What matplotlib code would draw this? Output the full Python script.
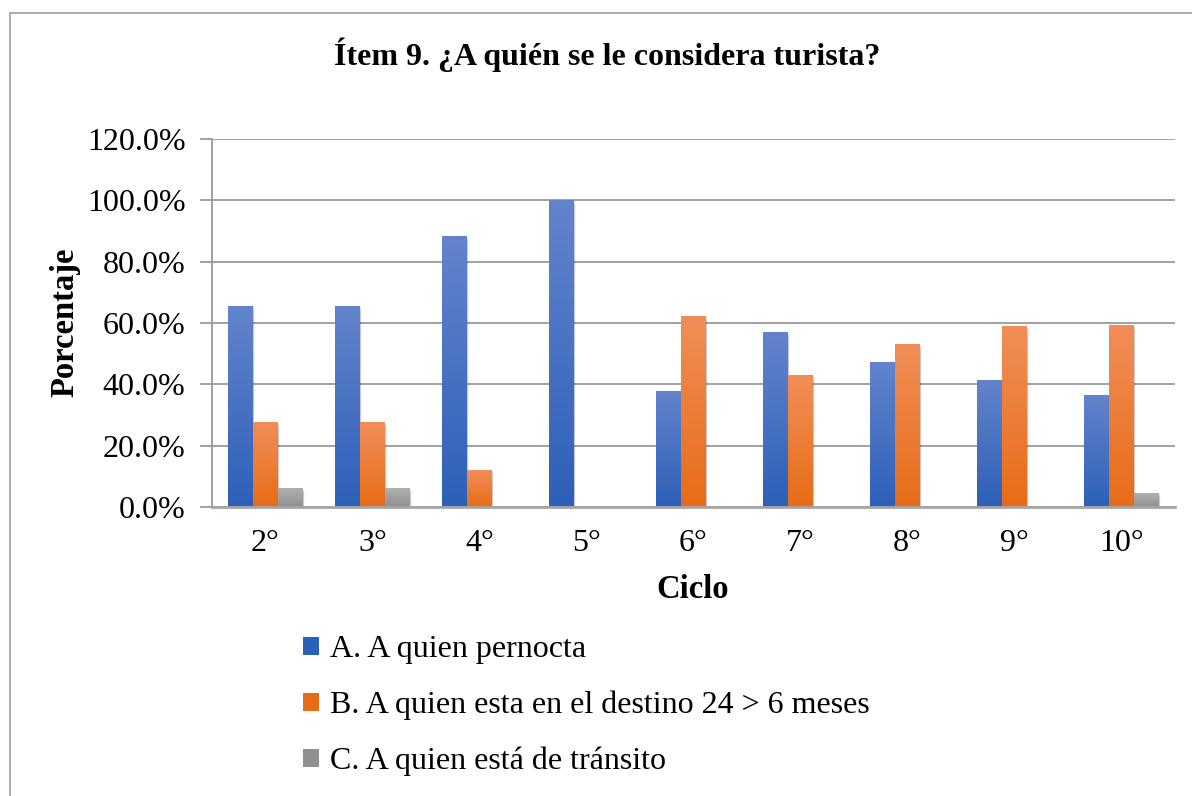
import numpy as np
import matplotlib
matplotlib.use("Agg")
import matplotlib.pyplot as plt
from matplotlib.colors import LinearSegmentedColormap
from matplotlib.patches import Patch, Rectangle
from matplotlib.ticker import PercentFormatter

plt.rcParams.update({
    'font.family': ['Liberation Serif', 'DejaVu Serif'],
    'font.size': 23,
})

ciclos = ['2°', '3°', '4°', '5°', '6°', '7°', '8°', '9°', '10°']
pernocta = [65.5, 65.5, 88.2, 100.0, 37.8, 57.0, 47.1, 41.2, 36.4]
destino = [27.6, 27.6, 11.8, 0.0, 62.2, 43.0, 52.9, 58.8, 59.1]
transito = [6.1, 6.1, 0.0, 0.0, 0.0, 0.0, 0.0, 0.0, 4.5]

labels = ['A. A quien pernocta',
          'B. A quien esta en el destino 24 > 6 meses',
          'C. A quien está de tránsito']
# (top, bottom) gradient colours
colores = [('#6384cc', '#2d60b9'), ('#f18e58', '#e76c17'), ('#b0b0b0', '#909090')]

W, H = 1192, 796
fig = plt.figure(figsize=(W / 100, H / 100), dpi=100)
ax = fig.add_axes([212 / W, 1 - 507 / H, 963 / W, 368 / H])

# chart border (only left/top visible in the crop)
fig.patches.append(Rectangle((10 / W, -0.05), 1.2, 1 - 13 / H + 0.05,
                             transform=fig.transFigure, fill=False,
                             edgecolor='#a6a6a6', lw=1.3))

x = np.arange(len(ciclos))
bw = 0.233
grad = np.linspace(0, 1, 128).reshape(-1, 1)

for i, serie in enumerate([pernocta, destino, transito]):
    top, bot = colores[i]
    cmap = LinearSegmentedColormap.from_list('g%d' % i, [bot, top])
    bars = ax.bar(x + (i - 1) * bw, np.array(serie) / 100, bw,
                  color=bot, zorder=3, linewidth=0)
    for b in bars:
        h = b.get_height()
        if h <= 0:
            continue
        bx, by, w = b.get_x(), b.get_y(), b.get_width()
        # soft shadow
        for k, a in enumerate([0.10, 0.07, 0.04]):
            ax.add_patch(Rectangle((bx + 0.006 * (k + 1), by - 0.004 * (k + 1)),
                                   w, h, color='k', alpha=a, lw=0, zorder=2))
        ax.imshow(grad, extent=[bx, bx + w, by, by + h], origin='lower',
                  cmap=cmap, aspect='auto', zorder=4)

ax.set_xlim(-0.5, len(ciclos) - 0.5)
ax.set_ylim(0, 1.2)
ax.set_yticks(np.arange(0, 1.21, 0.2))
ax.yaxis.set_major_formatter(PercentFormatter(1.0, decimals=1))
ax.set_xticks(x)
ax.set_xticklabels(ciclos)
ax.grid(axis='y', color='#9a9a9a', lw=1.3, zorder=1)
for s in ['top', 'right', 'bottom']:
    ax.spines[s].set_visible(False)
ax.spines['left'].set_color('#9a9a9a')
ax.spines['left'].set_linewidth(1.3)
ax.axhline(0, color='#a6a6a6', lw=2, zorder=5, clip_on=False)
ax.tick_params(axis='y', length=9, width=1.3, color='#9a9a9a', pad=10)
ax.tick_params(axis='x', length=0, pad=16)

fig.text(607 / W, 1 - 55 / H, 'Ítem 9. ¿A quién se le considera turista?',
         ha='center', va='center', fontsize=23, fontweight='bold')
fig.text(65 / W, 1 - 322 / H, 'Porcentaje', rotation=90, ha='center',
         va='center', fontsize=23.5, fontweight='bold')
fig.text(693 / W, 1 - 590 / H, 'Ciclo', ha='center', va='center',
         fontsize=23.5, fontweight='bold')

handles = [Patch(facecolor=c[1], edgecolor='none') for c in colores]
fig.legend(handles, labels, loc='upper left',
           bbox_to_anchor=(303 / W, 1 - 635 / H), frameon=False,
           handlelength=0.5, handleheight=0.5, handletextpad=0.35,
           labelspacing=0.83, borderaxespad=0, borderpad=0)

fig.savefig('out.png', dpi=100)
